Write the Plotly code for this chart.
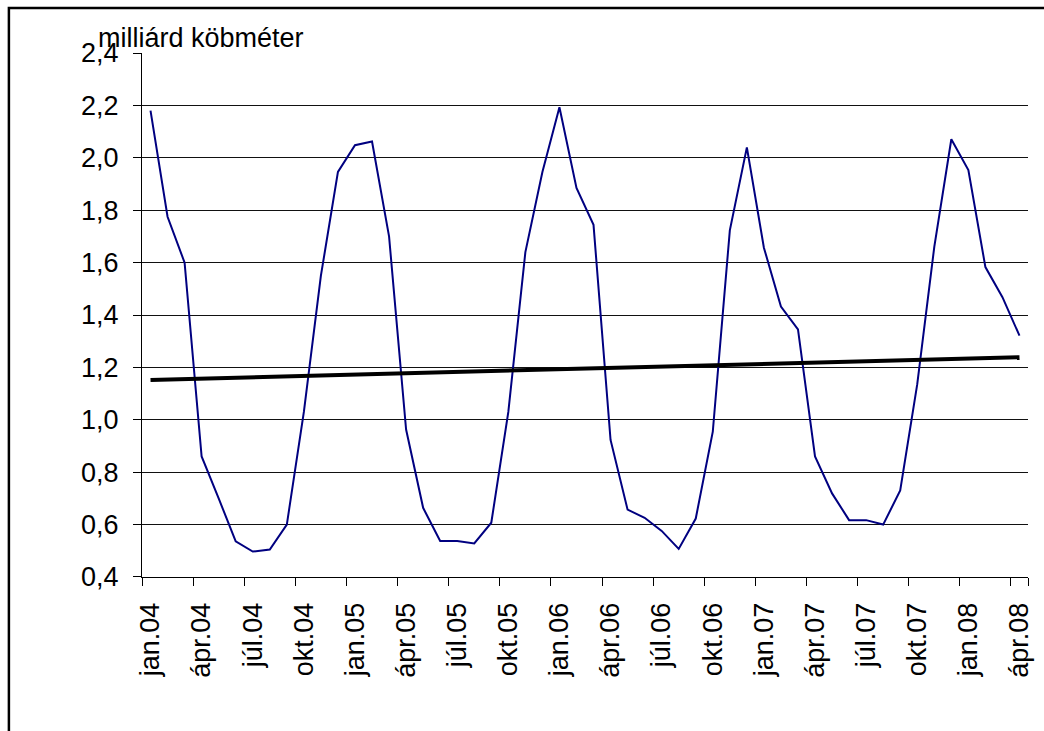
import plotly.graph_objects as go

# Hungarian month abbreviations and years (category labels)
months = ["jan", "febr", "márc", "ápr", "máj", "jún", "júl", "aug", "szept", "okt", "nov", "dec"]
years = ["04", "05", "06", "07", "08"]
categories = [f"{m}.{y}" for y in years for m in months][:52]  # jan.04 .. ápr.08

# monthly values, milliárd köbméter
values = [
    2.18, 1.775, 1.60, 0.86, 0.70, 0.536, 0.497, 0.505, 0.60, 1.03, 1.55, 1.946,   # 2004
    2.048, 2.062, 1.70, 0.963, 0.664, 0.537, 0.537, 0.528, 0.607, 1.03, 1.64, 1.946,  # 2005
    2.193, 1.885, 1.744, 0.923, 0.657, 0.626, 0.576, 0.507, 0.623, 0.955, 1.723, 2.04,  # 2006
    1.657, 1.432, 1.345, 0.86, 0.719, 0.617, 0.617, 0.60, 0.730, 1.136, 1.66, 2.071,  # 2007
    1.953, 1.583, 1.468, 1.321,  # 2008
]

# linear trend line end points
trend_x = ["jan.04", "ápr.08"]
trend_y = [1.152, 1.239]

tick_labels = categories[::3]
y_ticks = [0.4, 0.6, 0.8, 1.0, 1.2, 1.4, 1.6, 1.8, 2.0, 2.2, 2.4]

FONT = "Arial, 'Liberation Sans', sans-serif"
FS = 27

fig = go.Figure()
fig.add_trace(go.Scatter(
    x=categories, y=values, mode="lines",
    line=dict(color="#000080", width=2), showlegend=False, hoverinfo="x+y",
))
fig.add_trace(go.Scatter(
    x=trend_x, y=trend_y, mode="lines",
    line=dict(color="#000000", width=4), showlegend=False, hoverinfo="skip",
))

W, H = 1044, 731
L, R, T, B = 142, 10, 53, 154
pw, ph = W - L - R, H - T - B

fig.update_layout(
    width=W, height=H,
    margin=dict(l=L, r=R, t=T, b=B, pad=0),
    paper_bgcolor="white", plot_bgcolor="white",
    separators=", ",
    font=dict(family=FONT, size=FS, color="black"),
    xaxis=dict(
        type="category", categoryorder="array", categoryarray=categories,
        range=[-0.5, 51.5],
        tickmode="array", tickvals=tick_labels, ticktext=tick_labels,
        tickangle=-90, tickson="boundaries",
        ticks="outside", ticklen=8, tickwidth=1, tickcolor="black",
        showline=True, linecolor="black", linewidth=1,
        showgrid=False, zeroline=False,
        ticklabelstandoff=14,
        tickfont=dict(family=FONT, size=FS, color="black"),
    ),
    yaxis=dict(
        range=[0.3999, 2.4001],
        tickmode="array", tickvals=y_ticks, tickformat=".1f",
        ticks="outside", ticklen=8, tickwidth=1, tickcolor="black",
        showline=True, linecolor="black", linewidth=1,
        showgrid=True, gridcolor="#111111", gridwidth=1,
        zeroline=False,
        ticklabelstandoff=9,
        tickfont=dict(family=FONT, size=FS, color="black"),
    ),
    annotations=[dict(
        text="milliárd köbméter", xref="paper", yref="paper",
        x=(96 - L) / pw, y=1 + (T - 55) / ph,
        xanchor="left", yanchor="bottom", showarrow=False,
        font=dict(family=FONT, size=FS, color="black"),
    )],
    shapes=[dict(
        type="rect", xref="paper", yref="paper",
        x0=(8 - L) / pw, x1=1 + (R + 20) / pw,
        y0=-(B + 20) / ph, y1=1 + (T - 8) / ph,
        line=dict(color="black", width=2.5), fillcolor="rgba(0,0,0,0)", layer="above",
    )],
)

fig.write_html(
    "out.html",
    config={"displayModeBar": False},
    post_script="document.body.style.margin='0';document.body.style.overflow='hidden';",
)
